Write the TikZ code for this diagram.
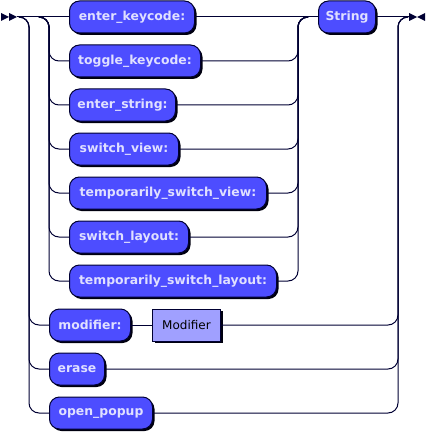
\documentclass[tikz,border=0pt]{standalone}
\usepackage{fontspec}
\usetikzlibrary{shadows,calc}
\newfontfamily\rrfont{DejaVu Sans}
\definecolor{linecol}{HTML}{000033}
\definecolor{termfill}{HTML}{4D4DFF}
\definecolor{termtext}{HTML}{E0E0FF}
\definecolor{ntfill}{HTML}{A0A0FF}
\definecolor{ntborder}{HTML}{000033}
\definecolor{shadowcol}{HTML}{00000F}
\tikzset{
  rrline/.style={draw=linecol, line width=1pt, rounded corners=10pt},
  rrshadow/.style={drop shadow={shadow xshift=2pt, shadow yshift=-2pt, fill=shadowcol, opacity=1}},
  term/.style={draw=linecol, line width=1pt, fill=termfill, rounded corners=10pt,
    minimum height=32pt, inner sep=0pt, anchor=west, rrshadow,
    text=termtext, font=\rrfont\bfseries\fontsize{12.4pt}{14pt}\selectfont},
  nonterm/.style={draw=ntborder, line width=1pt, fill=ntfill,
    minimum height=32pt, inner sep=0pt, anchor=west, rrshadow,
    text=black, font=\rrfont\fontsize{12pt}{14pt}\selectfont},
  rrmark/.style={fill=linecol, draw=none}
}
\begin{document}
\begin{tikzpicture}[x=1pt,y=-1pt]
\useasboundingbox (0,0) rectangle (427,433);
% junction coordinates
\coordinate (a0) at (17,17);
\coordinate (ol) at (29,17);
\coordinate (il) at (49,17);
\coordinate (ir) at (298,17);
\coordinate (or) at (398,17);
\coordinate (e0) at (409,17);
% nodes
\node[term, minimum width=125pt] (ek) at (69,17) {enter\_keycode:};
\node[term, minimum width=131pt] (tk) at (69,61) {toggle\_keycode:};
\node[term, minimum width=106pt] (es) at (69,105) {enter\_string:};
\node[term, minimum width=109pt] (sv) at (69,149) {switch\_view:};
\node[term, minimum width=197pt] (tsv) at (69,193) {temporarily\_switch\_view:};
\node[term, minimum width=119pt] (sl) at (69,237) {switch\_layout:};
\node[term, minimum width=207pt] (tsl) at (69,281) {temporarily\_switch\_layout:};
\node[term, minimum width=57pt] (str) at (318,17) {String};
\node[term, minimum width=81pt] (mod) at (49,325) {modifier:};
\node[nonterm, minimum width=68pt] (Mod) at (152,325) {Modifier};
\node[term, minimum width=55pt] (er) at (49,369) {erase};
\node[term, minimum width=103pt] (op) at (49,413) {open\_popup};
% start and end marks
\fill[rrmark] (1,13) -- (9,17) -- (1,21) -- cycle;
\fill[rrmark] (9,13) -- (17,17) -- (9,21) -- cycle;
\fill[rrmark] (409,13) -- (417,17) -- (409,21) -- cycle;
\fill[rrmark] (425,13) -- (417,17) -- (425,21) -- cycle;
% main line
\draw[rrline] (a0) -- (ek.west);
\draw[rrline] (ek.east) -- (str.west);
\draw[rrline] (str.east) -- (e0);
% inner choice
\foreach \n in {tk,es,sv,tsv,sl,tsl}{
  \draw[rrline] ($(il)-(10,0)$) -- (il) |- (\n.west);
  \draw[rrline] (\n.east) -| (ir) -- ($(ir)+(10,0)$);
}
% outer choice
\foreach \n/\m in {mod/Mod,er/er,op/op}{
  \draw[rrline] ($(ol)-(10,0)$) -- (ol) |- (\n.west);
  \draw[rrline] (\m.east) -| (or) -- ($(or)+(10,0)$);
}
\draw[rrline] (mod.east) -- (Mod.west);
\end{tikzpicture}
\end{document}
